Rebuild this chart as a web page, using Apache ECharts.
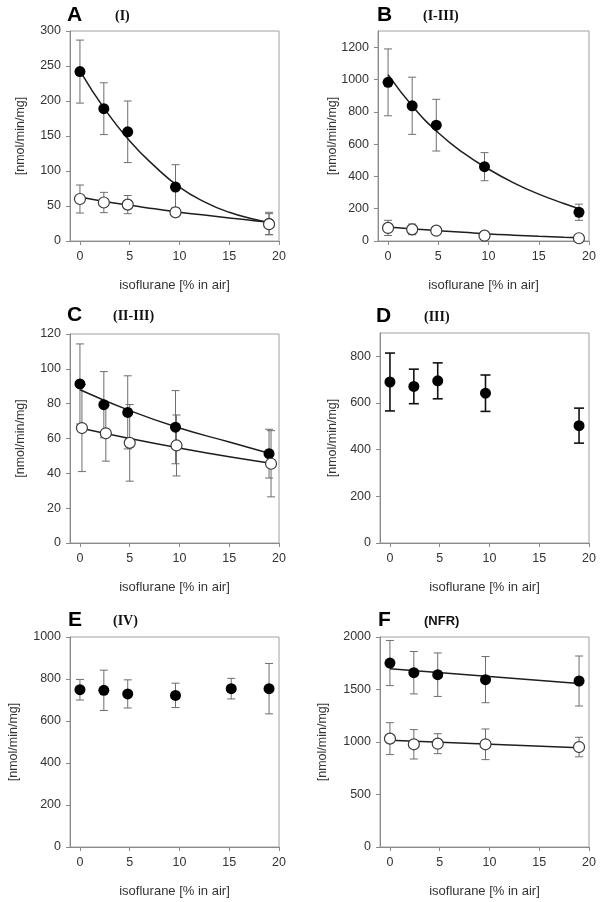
<!DOCTYPE html>
<html>
<head>
<meta charset="utf-8">
<script src="https://cdn.jsdelivr.net/npm/echarts@6/dist/echarts.min.js"></script>
<style>html,body{margin:0;padding:0;background:#fff}#c{width:604px;height:902px}</style>
</head>
<body>
<div id="c"></div>
<script>
// ---------- data ----------
const xTicks = [0, 5, 10, 15, 20];
const doseX = [0, 2.4, 4.8, 9.6, 19];

// Panel A (I)
const aFilled = [242, 189, 156, 77, 25];
const aFilledErr = [45, 37, 44, 32, 16];
const aOpen = [60, 55, 52, 41, 24];
const aOpenErr = [20, 14.5, 13, 6.5, 15];
const aFitX = [0, 2.5, 5, 7.5, 10, 12.5, 15, 17.5, 19];
const aFilledFit = [243, 188, 143, 107, 77, 56, 41, 31, 26];
const aOpenFit = [63, 56.5, 51, 46, 41, 37, 33, 29, 27];
const aYTicks = [0, 50, 100, 150, 200, 250, 300];

// Panel B (I-III)
const bFilled = [982, 837, 717, 460, 178];
const bFilledErr = [207, 177, 160, 87, 50];
const bOpen = [81, 72, 64, 33, 17];
const bOpenErr = [47, 33, 16, 17, 5];
const bFitX = [0, 2.5, 5, 7.5, 10, 12.5, 15, 17.5, 19];
const bFilledFit = [1030, 830, 670, 545, 445, 360, 290, 232, 200];
const bOpenFit = [86, 75, 64, 54, 44, 36, 29, 23, 20];
const bYTicks = [0, 200, 400, 600, 800, 1000, 1200];

// Panel C (II-III)
const cOpenX = [0.2, 2.6, 5.0, 9.7, 19.2];
const cFilled = [91.3, 79.4, 75, 66.5, 51.3];
const cFilledErr = [23, 19, 21, 21, 14];
const cOpen = [66, 63, 57.5, 56, 45.5];
const cOpenErr = [25, 16, 22, 17.5, 19];
const cFitX = [0, 5, 10, 15, 19];
const cFilledFit = [88, 76, 66, 58, 51.5];
const cOpenFit = [66, 60, 54.5, 49.5, 46];
const cYTicks = [0, 20, 40, 60, 80, 100, 120];

// Panel D (III)
const dFilled = [690, 671, 695, 642, 503];
const dFilledErr = [124, 74, 77, 78, 75];
const dYTicks = [0, 200, 400, 600, 800];

// Panel E (IV)
const eX = [0, 2.4, 4.8, 9.6, 15.2, 19];
const eFilled = [749, 746, 729, 722, 754, 754];
const eFilledErr = [49, 96, 67, 58, 49, 120];
const eYTicks = [0, 200, 400, 600, 800, 1000];

// Panel F (NFR)
const fFilled = [1752, 1660, 1641, 1594, 1581];
const fFilledErr = [215, 202, 207, 220, 238];
const fOpen = [1032, 978, 984, 978, 952];
const fOpenErr = [152, 140, 95, 146, 93];
const fFitX = [0, 19];
const fFilledFit = [1698, 1556];
const fOpenFit = [1016, 946];
const fYTicks = [0, 500, 1000, 1500, 2000];

const letters = ['A', 'B', 'C', 'D', 'E', 'F'];
const subtitles = ['(I)', '(I-III)', '(II-III)', '(III)', '(IV)', '(NFR)'];
const yName = '[nmol/min/mg]';
const xName = 'isoflurane [% in air]';

// ---------- build ----------
const SANS = '"Liberation Sans", Arial, sans-serif';
const SERIF = '"Liberation Serif", "Times New Roman", serif';

const panels = [
  {grid:{left:70, top:31, width:209, height:210}, ymax:300, yTicks:aYTicks,
   sets:[{x:doseX, y:aFilled, e:aFilledErr, filled:true},{x:doseX, y:aOpen, e:aOpenErr, filled:false}],
   fits:[{x:aFitX, y:aFilledFit},{x:aFitX, y:aOpenFit}], yNameX:21, letterX:67, subX:115, letterY:15},
  {grid:{left:378, top:31, width:211, height:210}, ymax:1300, yTicks:bYTicks,
   sets:[{x:doseX, y:bFilled, e:bFilledErr, filled:true},{x:doseX, y:bOpen, e:bOpenErr, filled:false}],
   fits:[{x:bFitX, y:bFilledFit},{x:bFitX, y:bOpenFit}], yNameX:333, letterX:377, subX:423, letterY:15},
  {grid:{left:70, top:334, width:209, height:209}, ymax:120, yTicks:cYTicks,
   sets:[{x:doseX, y:cFilled, e:cFilledErr, filled:true},{x:cOpenX, y:cOpen, e:cOpenErr, filled:false}],
   fits:[{x:cFitX, y:cFilledFit},{x:cFitX, y:cOpenFit}], yNameX:21, letterX:67, subX:113, letterY:315},
  {grid:{left:380, top:333, width:209, height:210}, ymax:900, yTicks:dYTicks,
   sets:[{x:doseX, y:dFilled, e:dFilledErr, filled:true, dark:true}],
   fits:[], yNameX:333, letterX:376, subX:424, letterY:316},
  {grid:{left:70, top:637, width:209, height:210}, ymax:1000, yTicks:eYTicks,
   sets:[{x:eX, y:eFilled, e:eFilledErr, filled:true}],
   fits:[], yNameX:14, letterX:68, subX:113, letterY:620},
  {grid:{left:380, top:637, width:209, height:210}, ymax:2000, yTicks:fYTicks,
   sets:[{x:doseX, y:fFilled, e:fFilledErr, filled:true},{x:doseX, y:fOpen, e:fOpenErr, filled:false}],
   fits:[{x:fFitX, y:fFilledFit},{x:fFitX, y:fOpenFit}], yNameX:323, letterX:378, subX:424, letterY:620}
];

const grids = [], xAxes = [], yAxes = [], series = [], graphics = [];
const axisGray = '#8a8a8a';
const plain = v => String(v);

panels.forEach((p, i) => {
  grids.push(Object.assign({show:true, borderColor:'#a0a0a0', borderWidth:1, containLabel:false, outerBoundsMode:'none'}, p.grid));
  xAxes.push({
    type:'value', gridIndex:i, min:-1, max:20,
    axisLine:{show:true, onZero:false, lineStyle:{color:axisGray, width:1}},
    axisTick:{show:true, length:4, customValues:xTicks, lineStyle:{color:axisGray}},
    axisLabel:{customValues:xTicks, formatter:plain, color:'#333', fontFamily:SANS, fontSize:12.5, margin:9},
    splitLine:{show:false}
  });
  yAxes.push({
    type:'value', gridIndex:i, min:0, max:p.ymax,
    axisLine:{show:true, onZero:false, lineStyle:{color:axisGray, width:1}},
    axisTick:{show:true, length:4, customValues:p.yTicks, lineStyle:{color:axisGray}},
    axisLabel:{customValues:p.yTicks, formatter:plain, color:'#333', fontFamily:SANS, fontSize:12.5, margin:9},
    splitLine:{show:false}
  });
  p.fits.forEach(f => {
    series.push({
      type:'line', xAxisIndex:i, yAxisIndex:i, smooth:f.x.length > 2 ? 0.5 : false, symbol:'none',
      lineStyle:{color:'#1e1e1e', width:1.5}, z:3, silent:true,
      data:f.x.map((x, k) => [x, f.y[k]])
    });
  });
  p.sets.forEach(s => {
    const color = s.dark ? '#111' : '#6e6e6e';
    const lw = s.dark ? 1.6 : 1;
    const cap = s.dark ? 5 : 4;
    series.push({
      type:'custom', xAxisIndex:i, yAxisIndex:i, z:2, silent:true,
      encode:{x:0, y:[1, 2]},
      data:s.x.map((x, k) => [x, s.y[k] - s.e[k], s.y[k] + s.e[k]]),
      renderItem:function(params, api){
        const x = api.value(0);
        const lo = api.coord([x, api.value(1)]);
        const hi = api.coord([x, api.value(2)]);
        const st = {stroke:color, lineWidth:lw};
        return {type:'group', children:[
          {type:'line', shape:{x1:hi[0], y1:hi[1], x2:lo[0], y2:lo[1]}, style:st},
          {type:'line', shape:{x1:hi[0]-cap, y1:hi[1], x2:hi[0]+cap, y2:hi[1]}, style:st},
          {type:'line', shape:{x1:lo[0]-cap, y1:lo[1], x2:lo[0]+cap, y2:lo[1]}, style:st}
        ]};
      }
    });
    series.push({
      type:'scatter', xAxisIndex:i, yAxisIndex:i, z:5, silent:true,
      symbol:'circle', symbolSize:11,
      itemStyle: s.filled ? {color:'#000', opacity:1} : {color:'#fff', borderColor:'#3a3a3a', borderWidth:1.2, opacity:1},
      data:s.x.map((x, k) => [x, s.y[k]])
    });
  });
  const g = p.grid;
  const cx = g.left + g.width / 2, cy = g.top + g.height / 2;
  graphics.push({type:'text', x:p.yNameX, y:cy, rotation:Math.PI/2,
    style:{text:yName, font:'12.5px ' + SANS, fill:'#333', align:'center', verticalAlign:'middle'}});
  graphics.push({type:'text', x:cx, y:g.top + g.height + 44,
    style:{text:xName, font:'13px ' + SANS, fill:'#333', align:'center', verticalAlign:'middle'}});
  graphics.push({type:'text', x:p.letterX, y:p.letterY,
    style:{text:letters[i], font:'bold 21px ' + SANS, fill:'#000', align:'left', verticalAlign:'middle'}});
  graphics.push({type:'text', x:p.subX, y:p.letterY + 1,
    style:{text:subtitles[i], font: i === 5 ? ('bold 13px ' + SANS) : ('bold 14px ' + SERIF), fill:'#111', align:'left', verticalAlign:'middle'}});
});

const chart = echarts.init(document.getElementById('c'), null, {renderer:'canvas'});
chart.setOption({
  animation:false,
  backgroundColor:'#fff',
  grid:grids, xAxis:xAxes, yAxis:yAxes, series:series,
  graphic:{elements:graphics}
});
</script>
</body>
</html>
